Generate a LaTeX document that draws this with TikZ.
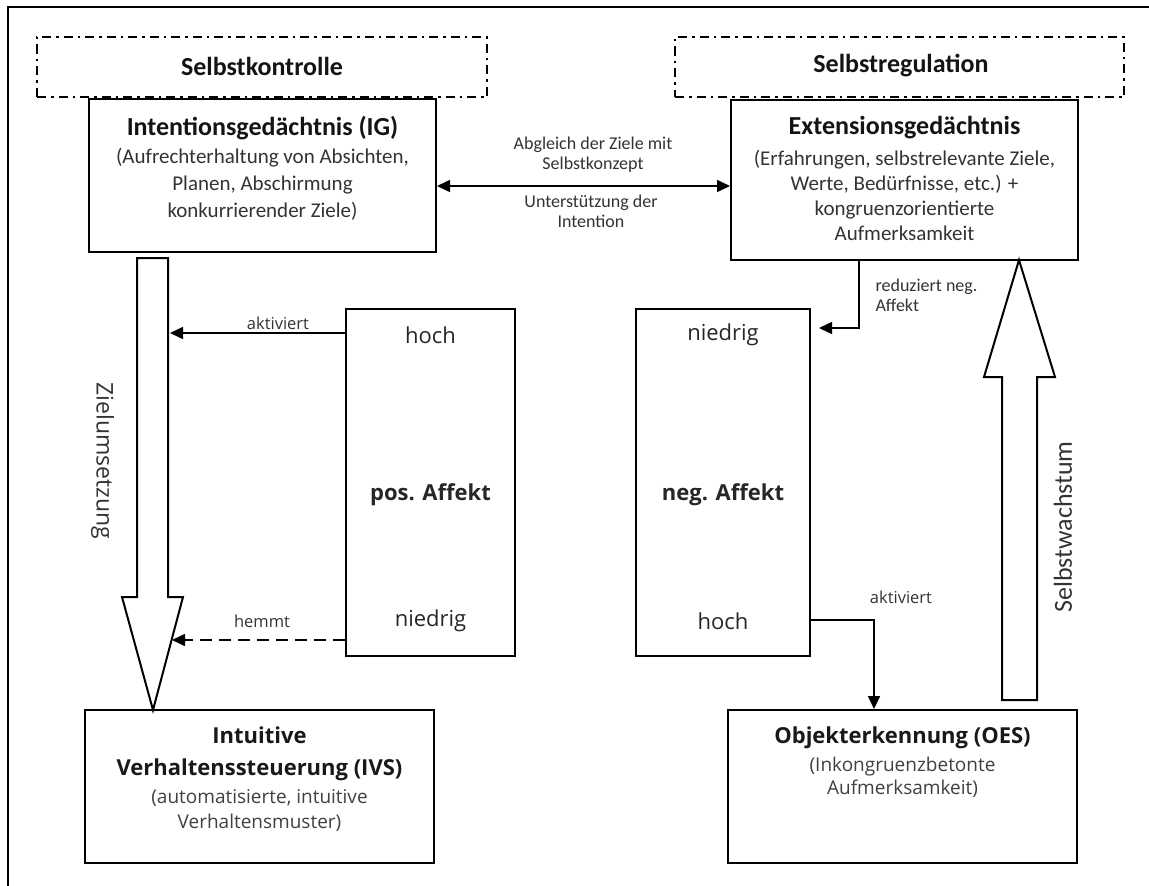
\documentclass[tikz,border=0pt]{standalone}
\usepackage{fontspec}
\setmainfont{Carlito}
\newfontfamily\osans{Open Sans}
\usetikzlibrary{arrows.meta}
\begin{document}
\begin{tikzpicture}[x=1pt,y=-1pt,
  box/.style={draw, line width=2pt, inner sep=0pt},
  dashbox/.style={draw, line width=2pt, inner sep=0pt, dash pattern=on 9pt off 5pt on 2.5pt off 5pt},
  ttl/.style={font=\fontsize{26}{27}\selectfont\bfseries, text=black!92},
  bdy/.style={font=\fontsize{21}{27}\selectfont, align=center, text=black!80},
  ottl/.style={font=\osans\bfseries\fontsize{22}{32}\selectfont, align=center, text=black!90},
  obdy/.style={font=\osans\fontsize{19}{25}\selectfont, align=center, text=black!75},
  lbl/.style={font=\fontsize{18}{20}\selectfont, align=center, text=black!80},
  olbl/.style={font=\osans\fontsize{16.5}{20}\selectfont, text=black!80},
  lvl/.style={font=\osans\fontsize{22}{26}\selectfont, text=black!85},
  conn/.style={draw, line width=1.6pt, -{Triangle[length=13pt,width=12pt]}},
  bigarrow/.style={draw, line width=2pt, fill=white, line join=miter}
]
\useasboundingbox (0,0) rectangle (1149,886);
\fill[white] (0,0) rectangle (1149,886);

% frame
\coordinate (fa) at (8,886);
\coordinate (fb) at (8,7);
\coordinate (fc) at (1149,7);
\draw[line width=2.5pt] (fa) -- (fb) -- (fc);

% dashed group boxes
\node[dashbox, minimum width=450, minimum height=60] (sk) at (262,67) {};
\node[ttl] (sktitle) at (262,66) {Selbstkontrolle};
\node[dashbox, minimum width=449, minimum height=60] (sr) at (899.5,67) {};
\node[ttl] (srtitle) at (901,66) {Selbstregulation};

% main boxes
\node[box, minimum width=347, minimum height=153] (ig) at (262.5,175.5) {};
\node[ttl] (igtitle) at (262.5,128) {Intentionsgedächtnis (IG)};
\node[bdy] (igbody) at (262.5,184) {(Aufrechterhaltung von Absichten,\\Planen, Abschirmung\\konkurrierender Ziele)};

\node[box, minimum width=347, minimum height=160] (eg) at (904.5,180) {};
\node[ttl] (egtitle) at (904.5,128) {Extensionsgedächtnis};
\node[bdy, font=\fontsize{21}{25}\selectfont] (egbody) at (904.5,195) {(Erfahrungen, selbstrelevante Ziele,\\Werte, Bedürfnisse, etc.) +\\kongruenzorientierte\\Aufmerksamkeit};

\node[box, minimum width=349, minimum height=153] (ivs) at (259.5,786.5) {};
\node[ottl] (ivstitle) at (259.5,754) {Intuitive\\Verhaltenssteuerung (IVS)};
\node[obdy] (ivsbody) at (259.5,811) {(automatisierte, intuitive\\Verhaltensmuster)};

\node[box, minimum width=349, minimum height=153] (oes) at (902.5,786.5) {};
\node[ottl] (oestitle) at (902.5,738) {Objekterkennung (OES)};
\node[obdy, font=\osans\fontsize{19}{23}\selectfont] (oesbody) at (902.5,777) {(Inkongruenzbetonte\\Aufmerksamkeit)};

% affect boxes
\node[box, minimum width=169, minimum height=347] (pos) at (430.5,482.5) {};
\node[lvl] (poshoch) at (430.5,335) {hoch};
\node[lvl, font=\osans\bfseries\fontsize{22}{26}\selectfont] (posname) at (430.5,495) {pos. Affekt};
\node[lvl] (posnied) at (430.5,621) {niedrig};

\node[box, minimum width=174, minimum height=347] (neg) at (723,482.5) {};
\node[lvl] (negnied) at (723,335) {niedrig};
\node[lvl, font=\osans\bfseries\fontsize{22}{26}\selectfont] (negname) at (723,495) {neg. Affekt};
\node[lvl] (neghoch) at (723,621) {hoch};

% big arrows
\draw[bigarrow] (137,258) -- (168,258) -- (168,597) -- (183,597) -- (153,710) -- (122,597) -- (137,597) -- cycle;
\node[font=\osans\fontsize{23}{26}\selectfont, text=black!80, rotate=-90] (zl) at (102.5,461) {Zielumsetzung};

\draw[bigarrow] (1002,700) -- (1037,700) -- (1037,377) -- (1055,377) -- (1019,260) -- (984,377) -- (1002,377) -- cycle;
\node[font=\fontsize{26}{28}\selectfont, text=black!80, rotate=90] (sw) at (1063,527) {Selbstwachstum};

% double arrow
\coordinate (dy) at (0,186);
\draw[conn, {Triangle[length=13pt,width=12pt]}-{Triangle[length=13pt,width=12pt]}] (ig.east |- dy) -- (eg.west |- dy);
\node[lbl] (abg) at (593,155) {Abgleich der Ziele mit\\Selbstkonzept};
\node[lbl] (unt) at (591,211) {Unterstützung der\\Intention};

% left connectors
\coordinate (za) at (170,333);
\draw[conn] (pos.west |- za) -- (za);
\node[olbl] (aklbl) at (278,323) {aktiviert};
\coordinate (zh) at (172,640);
\draw[conn, dash pattern=on 12pt off 7pt] (pos.west |- zh) -- (zh);
\node[olbl] (hmlbl) at (262,621) {hemmt};

% right connectors
\coordinate (rt) at (859,328);
\coordinate (rn) at (819,328);
\draw[conn] (eg.south -| rt) -- (rt) -- (rn);
\node[lbl, align=left, anchor=west] (rdlbl) at (872,295) {reduziert neg.\\Affekt};

\coordinate (ak) at (874,620);
\draw[conn] (neg.east |- ak) -- (ak) -- (oes.north -| ak);
\node[olbl] (ak2lbl) at (901,597) {aktiviert};
\end{tikzpicture}
\end{document}
